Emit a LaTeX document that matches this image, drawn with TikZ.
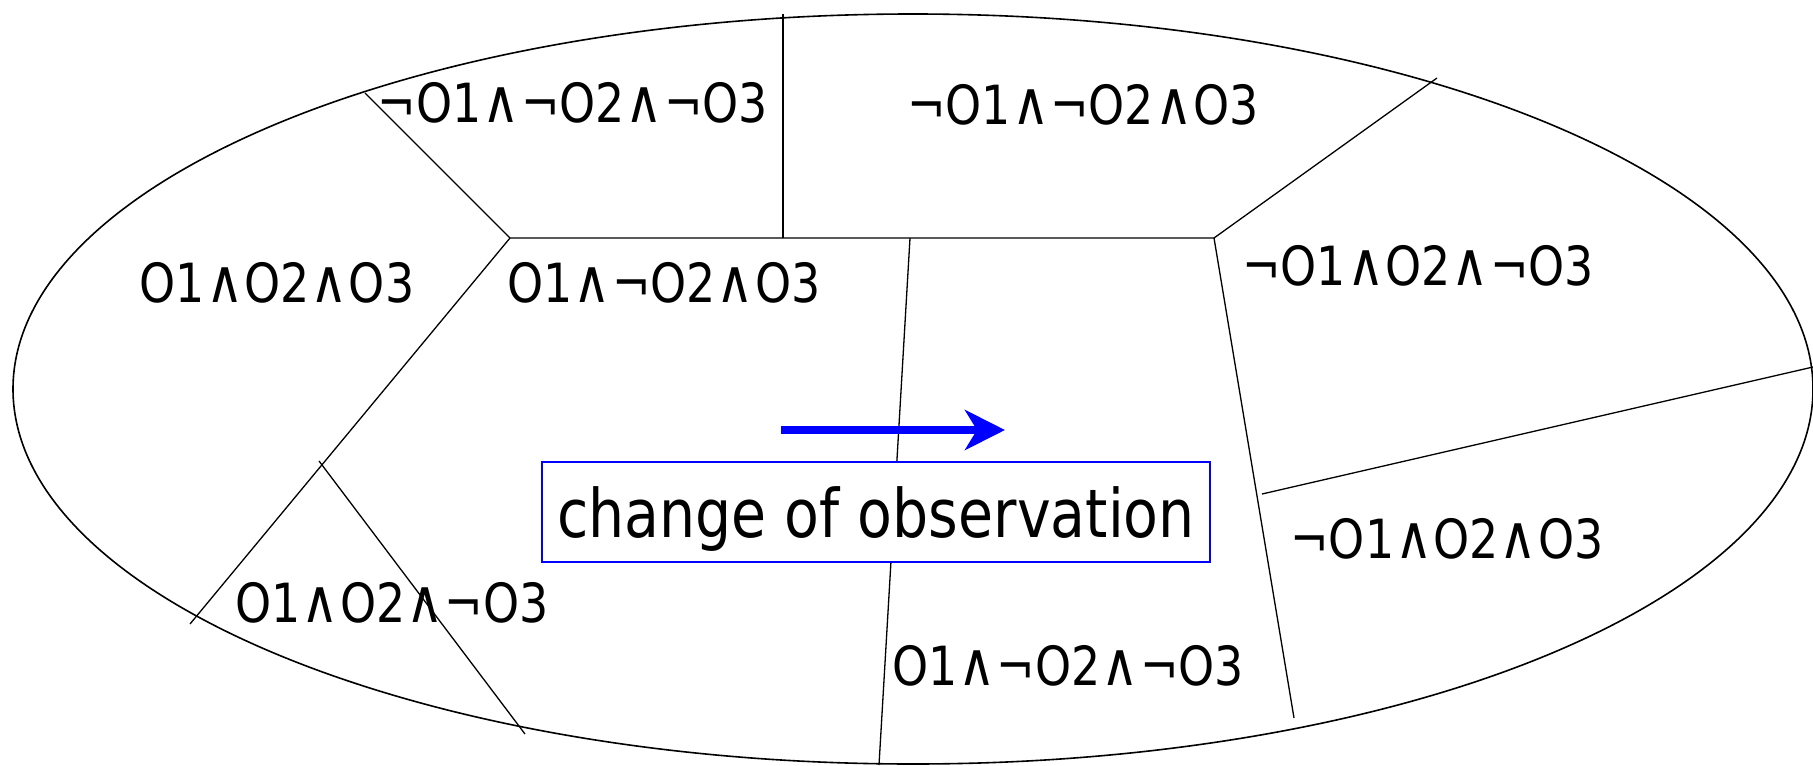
\documentclass[tikz,border=0pt]{standalone}
\usepackage{fontspec}
\setmainfont[FakeStretch=0.85]{DejaVu Sans}
\usetikzlibrary{arrows.meta}
\newcommand\andop{\hspace{0.5pt}{\fontsize{30pt}{30pt}\selectfont ∧}\hspace{0.5pt}}
\begin{document}
\begin{tikzpicture}[x=0.5pt,y=-0.5pt,
  region/.style={line width=0.65pt},
  lbl/.style={anchor=base,inner sep=0pt,font=\fontsize{27pt}{27pt}\selectfont}]
\useasboundingbox (0,0) rectangle (1813,765);
\clip (0,0) rectangle (1813,765);
\draw[line width=0.8pt] (913,389) ellipse [x radius=450pt, y radius=187.5pt];
% corners and border points
\coordinate (A) at (510,238);
\coordinate (B) at (1214,238);
\coordinate (tl) at (365,93);
\coordinate (vt) at (783,14);
\coordinate (vb) at (783,238);
\coordinate (bl) at (190,624);
\coordinate (s1) at (319,461);
\coordinate (s2) at (525,734);
\coordinate (m1) at (910,238);
\coordinate (m2) at (879,765);
\coordinate (r1) at (1294,718);
\coordinate (tr) at (1437,78);
\coordinate (e1) at (1262,494);
\coordinate (e2) at (1813,367);
\draw[region] (tl) -- (A) -- (B) -- (tr);
\draw[region] (vt) -- (vb);
\draw[region] (A) -- (bl);
\draw[region] (s1) -- (s2);
\draw[region] (m1) -- (m2);
\draw[region] (B) -- (r1);
\draw[region] (e1) -- (e2);
% labels
\node[lbl] (l1) at (573,122) {¬O1\andop¬O2\andop¬O3};
\node[lbl] (l2) at (1083,125) {¬O1\andop¬O2\andop O3};
\node[lbl] (l3) at (277,302) {O1\andop O2\andop O3};
\node[lbl] (l4) at (664,302) {O1\andop¬O2\andop O3};
\node[lbl] (l5) at (1418,285) {¬O1\andop O2\andop¬O3};
\node[lbl] (l6) at (1447,558) {¬O1\andop O2\andop O3};
\node[lbl] (l7) at (392,622) {O1\andop O2\andop¬O3};
\node[lbl] (l8) at (1068,685) {O1\andop¬O2\andop¬O3};
% box and arrow
\node[draw=blue, line width=1pt, fill=white, minimum width=334pt, minimum height=50pt,
  inner sep=0pt, text height=31pt, text depth=6pt, font=\fontsize{33.5pt}{33.5pt}\selectfont]
  (box) at (876,512) {change of observation};
\coordinate (a1) at (781,430);
\coordinate (a2) at (1005,430);
\draw[blue, line width=3.8pt, -{Stealth[length=20pt,width=20pt,inset=6pt]}] (a1) -- (a2);
\end{tikzpicture}
\end{document}
